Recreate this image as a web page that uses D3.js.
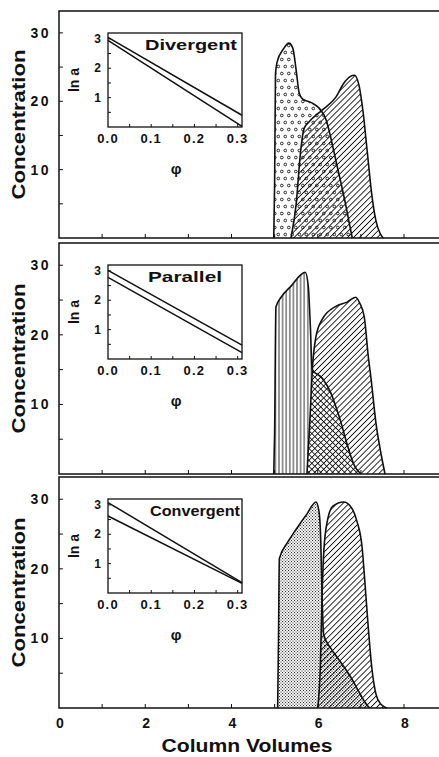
<!DOCTYPE html>
<html><head><meta charset="utf-8">
<script src="https://cdn.jsdelivr.net/npm/d3@7"></script>
<style>body{margin:0;background:#fff}svg{display:block}text{font-family:"Liberation Sans",Arial,sans-serif;font-weight:bold;fill:#111}</style>
</head><body>
<svg id="c" width="439" height="757"></svg>
<script>
// ---------- data ----------
const xTicks = [0, 2, 4, 6, 8];
const yTicks = [10, 20, 30];
const insetXTicks = [0.0, 0.1, 0.2, 0.3];
const insetYTicks = [1, 2, 3];
const panelTitles = ["Divergent", "Parallel", "Convergent"];
const insetPhi = [0, 0.31];
// ln a at phi = 0 and phi = 0.31 for the two lines in each inset
const divergentLines = [[3.05, 0.40], [2.95, 0.02]];
const parallelLines = [[3.02, 0.47], [2.78, 0.22]];
const convergentLines = [[3.08, 0.35], [2.62, 0.33]];
// chromatogram peaks [column volumes, concentration]
const divergentA = [[4.98,0],[5.0,8],[5.02,24],[5.06,25.8],[5.2,27.6],[5.33,28.5],[5.42,27.8],[5.5,24.5],[5.57,21.2],[5.65,20.3],[5.85,19.8],[6.03,19.0],[6.2,17.2],[6.33,13.9],[6.45,10.5],[6.54,8.0],[6.65,4.8],[6.73,2.2],[6.8,0]];
const divergentB = [[5.38,0],[5.5,5],[5.6,12.5],[5.68,16.0],[5.8,17.0],[6.1,18.7],[6.42,20.6],[6.6,22.6],[6.75,23.6],[6.85,23.8],[6.95,22.5],[7.05,18.5],[7.15,12.5],[7.25,6.5],[7.35,2.5],[7.45,0.6],[7.52,0]];
const parallelA = [[4.98,0],[5.0,6],[5.03,24.0],[5.15,25.4],[5.38,27.0],[5.6,28.6],[5.71,29.0],[5.78,27.0],[5.83,21],[5.87,15.0],[6.1,13.8],[6.3,11.7],[6.43,9.5],[6.53,7.6],[6.67,4.5],[6.85,1.2],[7.0,0]];
const parallelB = [[5.75,0],[5.82,8],[5.88,15.5],[5.96,19.8],[6.1,22.2],[6.42,24.1],[6.68,24.7],[6.88,25.4],[6.97,24.6],[7.08,22.5],[7.17,17],[7.24,13.5],[7.35,7.3],[7.47,2.8],[7.56,0]];
const convergentA = [[5.07,0],[5.09,10],[5.11,21.5],[5.3,23.8],[5.5,25.7],[5.75,27.9],[5.96,29.6],[6.03,28.2],[6.07,24],[6.1,16],[6.14,10.5],[6.3,8.6],[6.45,7.3],[6.6,6.0],[6.75,4.6],[6.95,2.4],[7.1,0.8],[7.2,0]];
const convergentB = [[6.0,0],[6.06,6],[6.1,16],[6.14,22.5],[6.22,26.8],[6.35,29.0],[6.6,29.6],[6.78,28.8],[6.9,27.0],[7.03,23.0],[7.1,17.5],[7.16,12.5],[7.25,6.0],[7.35,2.0],[7.47,0.5],[7.6,0]];

// ---------- layout ----------
const svg = d3.select("#c");
const W = 439;
const panels = [
  {top: 11, bottom: 238, title: panelTitles[0], lines: divergentLines, A: divergentA, B: divergentB, patA: "circ", titleX: 145, titleW: 92},
  {top: 243, bottom: 474, title: panelTitles[1], lines: parallelLines, A: parallelA, B: parallelB, patA: "vert", titleX: 148, titleW: 74},
  {top: 477, bottom: 708, title: panelTitles[2], lines: convergentLines, A: convergentA, B: convergentB, patA: "dense", titleX: 150, titleW: 90}
];
const x = d3.scaleLinear().domain([0, 8]).range([59, 404]);
const defs = svg.append("defs");

function linePattern(id, angle, size, sw) {
  const p = defs.append("pattern").attr("id", id).attr("patternUnits", "userSpaceOnUse")
    .attr("width", size).attr("height", 10);
  if (angle) p.attr("patternTransform", `rotate(${angle})`);
  p.append("line").attr("x1", size / 2).attr("x2", size / 2).attr("y1", -1).attr("y2", 11)
    .attr("stroke", "#111").attr("stroke-width", sw);
}
linePattern("diag", 45, 4.2, 0.9);
linePattern("back", -45, 4.2, 0.9);
linePattern("vert", 0, 3.6, 0.9);
{
  const p = defs.append("pattern").attr("id", "circ").attr("patternUnits", "userSpaceOnUse")
    .attr("width", 7).attr("height", 14);
  [[1.8, 3.5], [5.3, 10.5]].forEach(c => p.append("circle").attr("cx", c[0]).attr("cy", c[1]).attr("r", 1.35)
    .attr("fill", "none").attr("stroke", "#111").attr("stroke-width", 0.9));
}
{
  const p = defs.append("pattern").attr("id", "dense").attr("patternUnits", "userSpaceOnUse")
    .attr("width", 3).attr("height", 3);
  p.append("rect").attr("x", 0).attr("y", 0).attr("width", 1.1).attr("height", 1.1).attr("fill", "#333");
  p.append("rect").attr("x", 1.5).attr("y", 1.5).attr("width", 1.1).attr("height", 1.1).attr("fill", "#333");
}

panels.forEach((P, i) => {
  const g = svg.append("g");
  const y = d3.scaleLinear().domain([0, 33.2]).range([P.bottom, P.top]);
  const area = d3.area().x(d => x(d[0])).y0(y(0)).y1(d => y(d[1])).curve(d3.curveMonotoneX);
  const line = d3.line().x(d => x(d[0])).y(d => y(d[1])).curve(d3.curveMonotoneX);

  // frame
  g.append("path").attr("d", `M${W + 2},${P.top}H${x(0)}V${P.bottom}H${W + 2}`)
    .attr("fill", "none").attr("stroke", "#111").attr("stroke-width", 1.5);

  // y ticks (inward)
  d3.range(5, 33, 5).forEach(v => g.append("line").attr("x1", x(0)).attr("x2", x(0) + 4)
    .attr("y1", y(v)).attr("y2", y(v)).attr("stroke", "#111").attr("stroke-width", 1));
  // x ticks (inward)
  d3.range(1, 9, 1).forEach(v => g.append("line").attr("x1", x(v)).attr("x2", x(v))
    .attr("y1", P.bottom).attr("y2", P.bottom - 4).attr("stroke", "#111").attr("stroke-width", 1));

  yTicks.forEach(v => g.append("text").attr("x", 51).attr("y", y(v) + 5).attr("text-anchor", "end")
    .attr("font-size", 14).attr("letter-spacing", 2.5).text(v));

  g.append("text").attr("transform", `translate(25,${(P.top + P.bottom) / 2}) rotate(-90)`)
    .attr("text-anchor", "middle").attr("font-size", 18).attr("textLength", 150)
    .attr("lengthAdjust", "spacingAndGlyphs").text("Concentration");

  // peaks
  const idB = "clipB" + i, idM = "maskB" + i;
  defs.append("clipPath").attr("id", idB).append("path").attr("d", area(P.B));
  const m = defs.append("mask").attr("id", idM).attr("maskUnits", "userSpaceOnUse")
    .attr("x", 0).attr("y", 0).attr("width", W).attr("height", 757);
  m.append("rect").attr("width", W).attr("height", 757).attr("fill", "white");
  m.append("path").attr("d", area(P.B)).attr("fill", "black");

  if (P.patA === "vert") {
    g.append("path").attr("d", area(P.A)).attr("fill", "url(#vert)").attr("mask", `url(#${idM})`);
    g.append("path").attr("d", area(P.A)).attr("fill", "url(#back)").attr("clip-path", `url(#${idB})`);
  } else {
    g.append("path").attr("d", area(P.A)).attr("fill", `url(#${P.patA})`);
  }
  g.append("path").attr("d", area(P.B)).attr("fill", "url(#diag)");
  [P.A, P.B].forEach(d => g.append("path").attr("d", line(d)).attr("fill", "none")
    .attr("stroke", "#111").attr("stroke-width", 1.6));

  // inset
  const ix = d3.scaleLinear().domain([0, 0.31]).range([108, 242]);
  const iy = d3.scaleLinear().domain([0, 3.2]).range([P.top + 116, P.top + 22]);
  g.append("rect").attr("x", 108).attr("y", P.top + 22).attr("width", 134).attr("height", 94)
    .attr("fill", "#fff").attr("stroke", "#111").attr("stroke-width", 1.3);
  d3.range(0.05, 0.31, 0.05).forEach(v => g.append("line").attr("x1", ix(v)).attr("x2", ix(v))
    .attr("y1", iy(0)).attr("y2", iy(0) - 3).attr("stroke", "#111"));
  d3.range(0.5, 3.2, 0.5).forEach(v => g.append("line").attr("x1", 108).attr("x2", 111)
    .attr("y1", iy(v)).attr("y2", iy(v)).attr("stroke", "#111"));
  insetXTicks.forEach(v => g.append("text").attr("x", ix(v)).attr("y", iy(0) + 16)
    .attr("text-anchor", "middle").attr("font-size", 13).attr("letter-spacing", 1.2).text(v.toFixed(1)));
  insetYTicks.forEach(v => g.append("text").attr("x", 101).attr("y", iy(v) + 4)
    .attr("text-anchor", "end").attr("font-size", 12).text(v));
  g.append("text").attr("transform", `translate(79,${P.top + 69}) rotate(-90)`)
    .attr("text-anchor", "middle").attr("font-size", 14).text("ln a");
  g.append("text").attr("x", 176).attr("y", P.top + 163).attr("text-anchor", "middle")
    .attr("font-size", 15).text("φ");
  P.lines.forEach(L => g.append("line").attr("x1", ix(insetPhi[0])).attr("y1", iy(L[0]))
    .attr("x2", ix(insetPhi[1])).attr("y2", iy(L[1])).attr("stroke", "#111").attr("stroke-width", 1.5));
  g.append("text").attr("x", P.titleX).attr("y", P.top + 39).attr("font-size", 15)
    .attr("textLength", P.titleW).attr("lengthAdjust", "spacingAndGlyphs").text(P.title);
});

// bottom axis labels
xTicks.forEach(v => svg.append("text").attr("x", x(v) + 1).attr("y", 728).attr("text-anchor", "middle")
  .attr("font-size", 14).text(v));
svg.append("text").attr("x", 247).attr("y", 752).attr("text-anchor", "middle").attr("font-size", 18)
  .attr("textLength", 171).attr("lengthAdjust", "spacingAndGlyphs").text("Column  Volumes");
</script>
</body></html>
